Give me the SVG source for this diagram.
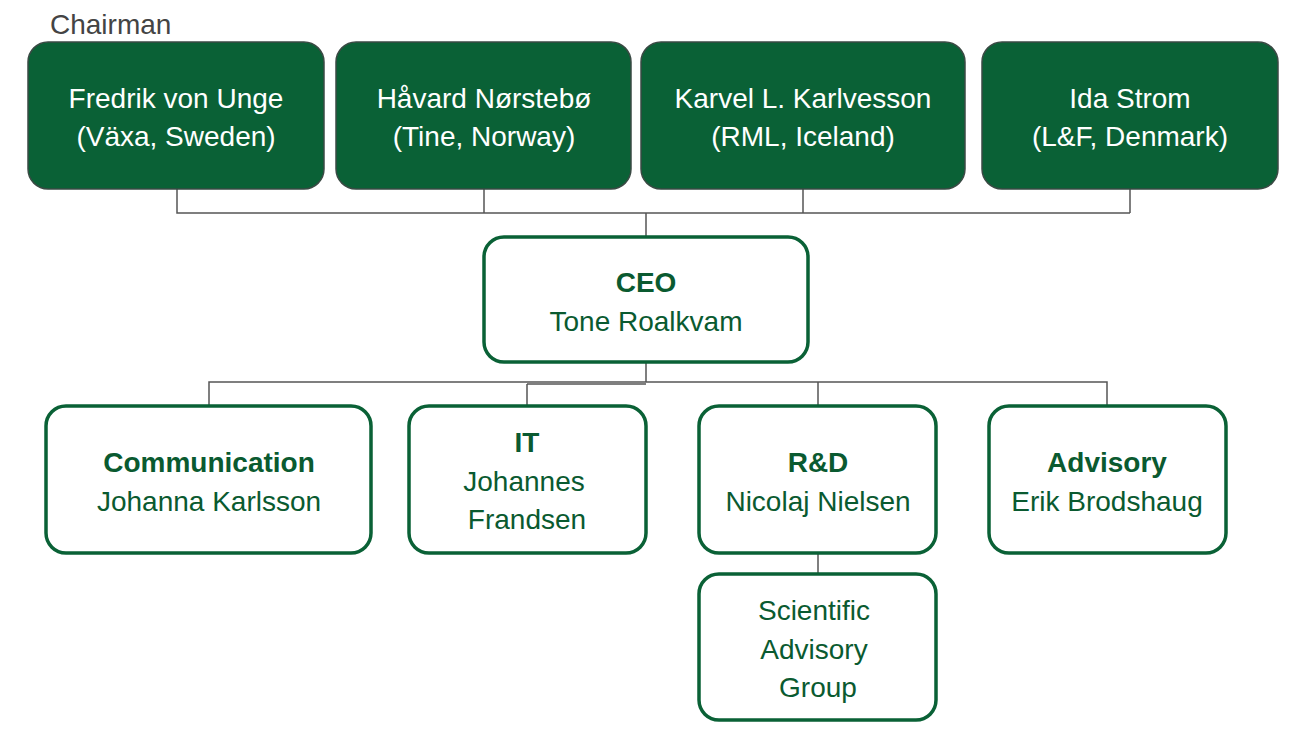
<svg xmlns="http://www.w3.org/2000/svg" width="1296" height="738" viewBox="0 0 1296 738">
<style>
.top{fill:#0a6136;stroke:#3a4a44;stroke-width:1.5}
.box{fill:#fff;stroke:#0a6136;stroke-width:3.5}
text{font-family:"Liberation Sans",Arial,sans-serif;font-size:28px;text-anchor:middle}
.w{fill:#fff}.g{fill:#0a5a30}.b{font-weight:bold}
.c{stroke:#555;stroke-width:1.5;fill:none}
</style>
<rect width="1296" height="738" fill="#fff"/>
<text x="50" y="34" style="text-anchor:start;fill:#444">Chairman</text>
<g id="connectors">
<path class="c" d="M177 189V213H1130M484 189V213M803 189V213M1130 189V213M646 213V237"/>
<path class="c" d="M646 362V382H209V406M209 382H1107V406M527 384V406M527 384H646M818 382V406M818 553V574"/>
</g>
<g id="n1"><rect class="top" x="28" y="42" width="296" height="147" rx="20"/><text class="w" x="176" y="108">Fredrik von Unge</text><text class="w" x="176" y="146">(Växa, Sweden)</text></g>
<g id="n2"><rect class="top" x="336" y="42" width="295" height="147" rx="20"/><text class="w" x="484" y="108">Håvard Nørstebø</text><text class="w" x="484" y="146">(Tine, Norway)</text></g>
<g id="n3"><rect class="top" x="641" y="42" width="324" height="147" rx="20"/><text class="w" x="803" y="108">Karvel L. Karlvesson</text><text class="w" x="803" y="146">(RML, Iceland)</text></g>
<g id="n4"><rect class="top" x="982" y="42" width="296" height="147" rx="20"/><text class="w" x="1130" y="108">Ida Strom</text><text class="w" x="1130" y="146">(L&amp;F, Denmark)</text></g>
<g id="ceo"><rect class="box" x="484" y="237" width="324" height="125" rx="20"/><text class="g b" x="646" y="292">CEO</text><text class="g" x="646" y="331">Tone Roalkvam</text></g>
<g id="comm"><rect class="box" x="46" y="406" width="325" height="147" rx="20"/><text class="g b" x="209" y="472">Communication</text><text class="g" x="209" y="511">Johanna Karlsson</text></g>
<g id="it"><rect class="box" x="409" y="406" width="237" height="147" rx="20"/><text class="g b" x="527" y="452">IT</text><text class="g" x="524" y="491">Johannes</text><text class="g" x="527" y="529">Frandsen</text></g>
<g id="rd"><rect class="box" x="699" y="406" width="237" height="147" rx="20"/><text class="g b" x="818" y="472">R&amp;D</text><text class="g" x="818" y="511">Nicolaj Nielsen</text></g>
<g id="adv"><rect class="box" x="989" y="406" width="237" height="147" rx="20"/><text class="g b" x="1107" y="472">Advisory</text><text class="g" x="1107" y="511">Erik Brodshaug</text></g>
<g id="sag"><rect class="box" x="699" y="574" width="237" height="146" rx="20"/><text class="g" x="814" y="620">Scientific</text><text class="g" x="814" y="659">Advisory</text><text class="g" x="818" y="697">Group</text></g>
</svg>
